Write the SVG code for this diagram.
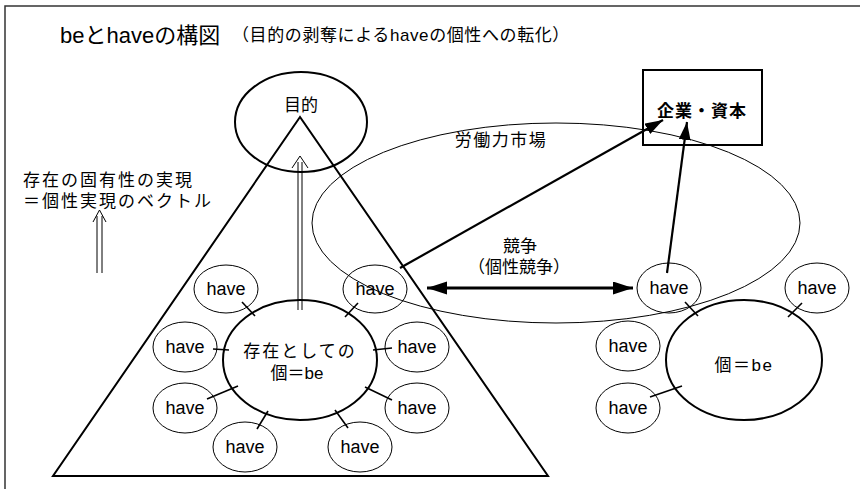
<svg xmlns="http://www.w3.org/2000/svg" width="860" height="489" viewBox="0 0 860 489">
<defs>
<style>
text{font-family:"Liberation Sans","Noto Sans CJK JP",sans-serif;fill:#000;}
.thin{fill:none;stroke:#000;stroke-width:1;}
.thick{fill:none;stroke:#000;stroke-width:2;}
.tick{stroke:#000;stroke-width:1.6;}
.hv{font-size:18px;text-anchor:middle;}
.lbl{font-size:17px;text-anchor:middle;}
.arr{stroke:#000;stroke-width:2.2;fill:none;}
</style>
<marker id="ah" markerUnits="userSpaceOnUse" markerWidth="20" markerHeight="14" refX="18" refY="6" orient="auto">
<path d="M0,0 L18,6 L0,12 Z" fill="#000"/>
</marker>
<marker id="ahb" markerUnits="userSpaceOnUse" markerWidth="22" markerHeight="14" refX="20" refY="6.5" orient="auto-start-reverse">
<path d="M0,0 L20,6.5 L0,13 Z" fill="#000"/>
</marker>
</defs>
<rect width="860" height="489" fill="#fff"/>
<path d="M5,489 L5,6 L860,6" fill="none" stroke="#333" stroke-width="1.5"/>

<text x="60" y="43" font-size="22">beとhaveの構図</text>
<text x="232" y="41" font-size="17" letter-spacing="0.6">（目的の剥奪によるhaveの個性への転化）</text>

<g id="vector-label">
<text x="23" y="186" font-size="17" letter-spacing="2">存在の固有性の実現</text>
<text x="23" y="207" font-size="17" letter-spacing="2">＝個性実現のベクトル</text>
<path d="M97,273 L97,216 M102,273 L102,216 M93,222 L99.5,210 L106,222" class="thin" stroke-width="1.8"/>
</g>

<g id="triangle"><path d="M300,117 L53,476 L548,476 Z" class="thick"/></g>

<g id="purpose"><ellipse cx="301" cy="122" rx="66" ry="50" class="thick"/><text x="301" y="111" class="lbl">目的</text></g>

<g id="market"><ellipse cx="556" cy="223" rx="244" ry="100" class="thin"/><text x="501" y="146" class="lbl" letter-spacing="1.5">労働力市場</text></g>

<g id="company"><rect x="643" y="70" width="119" height="75" class="thick"/><text x="702" y="117" font-size="17" font-weight="bold" text-anchor="middle" letter-spacing="1">企業・資本</text></g>

<g id="be-left"><ellipse cx="300" cy="360" rx="77" ry="60" class="thick"/><text x="300" y="357" class="lbl" letter-spacing="2">存在としての</text><text x="297" y="379" class="lbl">個＝be</text></g>

<g id="be-right"><ellipse cx="744" cy="360" rx="78" ry="60" class="thick"/><text x="744" y="371" class="lbl" letter-spacing="1.5">個＝be</text></g>

<g id="have-l1"><ellipse cx="226" cy="289" rx="32" ry="24" class="thin"/><text x="226" y="295" class="hv">have</text></g>
<g id="have-l2"><ellipse cx="375" cy="289" rx="32" ry="24" class="thin"/><text x="375" y="295" class="hv">have</text></g>
<g id="have-l3"><ellipse cx="185" cy="347" rx="32" ry="25" class="thin"/><text x="185" y="353" class="hv">have</text></g>
<g id="have-l4"><ellipse cx="417" cy="347" rx="32" ry="25" class="thin"/><text x="417" y="353" class="hv">have</text></g>
<g id="have-l5"><ellipse cx="185" cy="408" rx="32" ry="25" class="thin"/><text x="185" y="414" class="hv">have</text></g>
<g id="have-l6"><ellipse cx="417" cy="408" rx="32" ry="25" class="thin"/><text x="417" y="414" class="hv">have</text></g>
<g id="have-l7"><ellipse cx="245" cy="447" rx="32" ry="25" class="thin"/><text x="245" y="453" class="hv">have</text></g>
<g id="have-l8"><ellipse cx="360" cy="447" rx="32" ry="25" class="thin"/><text x="360" y="453" class="hv">have</text></g>

<g id="have-r1"><ellipse cx="669" cy="288" rx="32" ry="25" class="thin"/><text x="669" y="294" class="hv">have</text></g>
<g id="have-r2"><ellipse cx="817" cy="288" rx="32" ry="25" class="thin"/><text x="817" y="294" class="hv">have</text></g>
<g id="have-r3"><ellipse cx="628" cy="346" rx="32" ry="25" class="thin"/><text x="628" y="352" class="hv">have</text></g>
<g id="have-r4"><ellipse cx="628" cy="408" rx="32" ry="25" class="thin"/><text x="628" y="414" class="hv">have</text></g>

<g id="competition-label"><text x="520" y="252" class="lbl">競争</text><text x="519" y="273" class="lbl">（個性競争）</text></g>

<g id="connectors">
<path d="M298,310 L298,162 M302,310 L302,162 M292,168 L300,156 L308,168" class="thin" stroke-width="1.8"/>
<line x1="400" y1="268" x2="663" y2="120" class="arr" marker-end="url(#ah)"/>
<line x1="667" y1="273" x2="687" y2="122" class="arr" marker-end="url(#ah)"/>
<line x1="427" y1="288" x2="633" y2="288" stroke="#000" stroke-width="3.2" marker-start="url(#ahb)" marker-end="url(#ahb)"/>
<line x1="242" y1="302" x2="255" y2="316" class="tick"/>
<line x1="358" y1="303" x2="345" y2="317" class="tick"/>
<line x1="213" y1="349" x2="229" y2="350" class="tick"/>
<line x1="373" y1="350" x2="392" y2="348" class="tick"/>
<line x1="207" y1="399" x2="238" y2="386" class="tick"/>
<line x1="365" y1="387" x2="392" y2="400" class="tick"/>
<line x1="257" y1="429" x2="268" y2="411" class="tick"/>
<line x1="335" y1="410" x2="348" y2="428" class="tick"/>
<line x1="685" y1="302" x2="698" y2="316" class="tick"/>
<line x1="802" y1="303" x2="788" y2="317" class="tick"/>
<line x1="650" y1="397" x2="682" y2="386" class="tick"/>
</g>
</svg>
